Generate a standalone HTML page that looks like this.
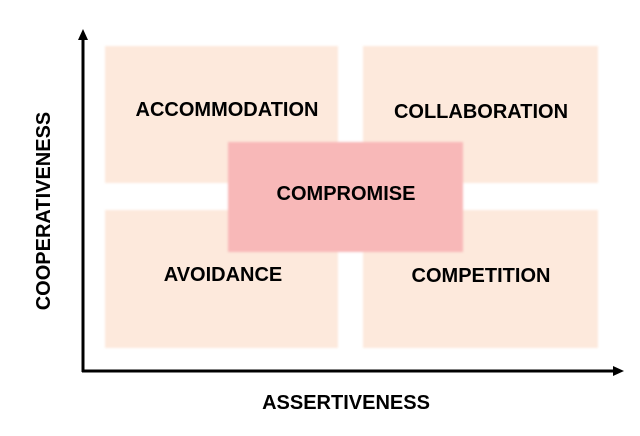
<!DOCTYPE html>
<html><head><style>
body{margin:0;width:640px;height:436px;background:#fff;position:relative;overflow:hidden;font-family:"Liberation Sans",sans-serif;font-weight:bold;color:#000}
.b{position:absolute;background:#fde9dc;filter:blur(1px)}
.c{position:absolute;background:#f8b8b8;filter:blur(1px)}
.t{position:absolute;font-size:20px;line-height:22px;white-space:nowrap;transform:translateX(-50%)}
</style></head><body>
<div class="b" style="left:105px;top:46px;width:233px;height:137px"></div>
<div class="b" style="left:363px;top:46px;width:235px;height:137px"></div>
<div class="b" style="left:105px;top:210px;width:233px;height:138px"></div>
<div class="b" style="left:363px;top:210px;width:235px;height:138px"></div>
<div class="c" style="left:228px;top:142px;width:235px;height:110px"></div>
<div class="t" style="left:227px;top:99px">ACCOMMODATION</div>
<div class="t" style="left:481px;top:101px">COLLABORATION</div>
<div class="t" style="left:346px;top:183px">COMPROMISE</div>
<div class="t" style="left:223px;top:264px">AVOIDANCE</div>
<div class="t" style="left:481px;top:265px">COMPETITION</div>
<div class="t" style="left:346px;top:392px">ASSERTIVENESS</div>
<div style="position:absolute;left:44px;top:211px;font-size:20px;line-height:22px;white-space:nowrap;transform:translate(-50%,-50%) rotate(-90deg)">COOPERATIVENESS</div>
<svg width="640" height="436" style="position:absolute;left:0;top:0">
<line x1="83" y1="38" x2="83" y2="372" stroke="#000" stroke-width="3"/>
<polygon points="83,29 78,40 88,40" fill="#000"/>
<line x1="82" y1="371" x2="614" y2="371" stroke="#000" stroke-width="3"/>
<polygon points="624,371 613,366 613,376" fill="#000"/>
</svg>
</body></html>
